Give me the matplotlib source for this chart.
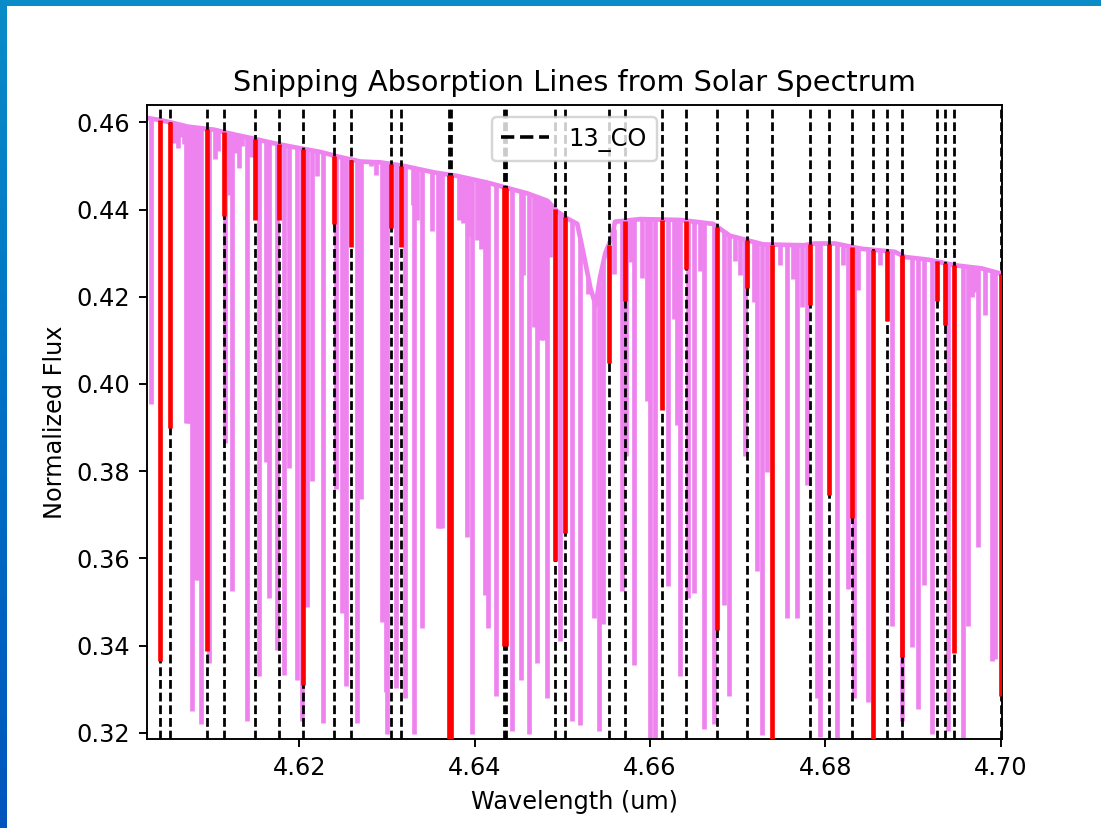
import numpy as np
import matplotlib
matplotlib.use("Agg")
import matplotlib.pyplot as plt
from matplotlib.patches import Rectangle
from matplotlib.lines import Line2D
from matplotlib.colors import LinearSegmentedColormap

# ---------------- data ----------------
# upper envelope (continuum) of the solar spectrum
cont_wave = [4.6026, 4.6042, 4.6057, 4.6073, 4.6103, 4.6126, 4.6149, 4.6171,
             4.6194, 4.6224, 4.6247, 4.6270, 4.6293, 4.6319, 4.6354, 4.6380,
             4.6414, 4.6460, 4.6483, 4.6494, 4.6505, 4.6517, 4.6524, 4.6532,
             4.6538, 4.6543, 4.6549, 4.6557, 4.6560, 4.6589, 4.6635, 4.6672,
             4.6691, 4.6729, 4.6775, 4.6788, 4.6811, 4.6841, 4.6879, 4.6891,
             4.6917, 4.6948, 4.6978, 4.7000]
cont_flux = [0.4610, 0.4605, 0.4598, 0.4590, 0.4583, 0.4572, 0.4562, 0.4552,
             0.4543, 0.4532, 0.4520, 0.4510, 0.4508, 0.4500, 0.4485, 0.4477,
             0.4462, 0.4437, 0.4420, 0.4396, 0.4380, 0.4367, 0.4300, 0.4220,
             0.4180, 0.4245, 0.4300, 0.4340, 0.4372, 0.4378, 0.4376, 0.4367,
             0.4340, 0.4320, 0.4318, 0.4322, 0.4322, 0.4310, 0.4303, 0.4291,
             0.4285, 0.4272, 0.4265, 0.4253]

# solar absorption lines: centre wavelength and minimum flux
line_wave = [4.60309, 4.60707, 4.60730, 4.60753, 4.60776, 4.60799, 4.60821,
             4.60845, 4.60860, 4.60878,
             4.60973, 4.61155, 4.61189, 4.61228, 4.61314, 4.61402, 4.61539,
             4.61618, 4.61649, 4.61744, 4.61827, 4.61888, 4.61979, 4.62036,
             4.62085, 4.62150, 4.62276, 4.62416, 4.62492, 4.62538, 4.62655,
             4.62700, 4.62948, 4.62985, 4.63005, 4.63099, 4.63202, 4.63308,
             4.63403, 4.63517, 4.63577, 4.63604, 4.63629, 4.63916, 4.63973,
             4.64030, 4.64113, 4.64150, 4.64238, 4.64428, 4.64523, 4.64617,
             4.64713, 4.64756, 4.64779, 4.64827, 4.64978, 4.65112, 4.65206,
             4.65297, 4.65358, 4.65415, 4.65468, 4.65681, 4.65730, 4.65813,
             4.65966, 4.66003, 4.66060, 4.66200, 4.66308, 4.66345, 4.66428,
             4.66497, 4.66610, 4.66732, 4.66838, 4.66895, 4.67085, 4.67219,
             4.67276, 4.67333, 4.67560, 4.67674, 4.67788, 4.67902, 4.67940,
             4.68130, 4.68262, 4.68330, 4.68490, 4.68756, 4.68870, 4.68984,
             4.69059, 4.69124, 4.69212, 4.69397, 4.69572, 4.69629, 4.69743,
             4.69895, 4.69933]
line_min = [0.3955, 0.3910, 0.3910, 0.3910, 0.3251, 0.3910, 0.3550,
            0.3550, 0.3910, 0.3220,
            0.3360, 0.3864, 0.4434, 0.3526, 0.4496, 0.3227, 0.3330,
            0.3820, 0.3510, 0.3390, 0.3332, 0.3807, 0.3320, 0.3227,
            0.3488, 0.3778, 0.3222, 0.3760, 0.3474, 0.3308, 0.3222,
            0.3735, 0.3455, 0.3293, 0.3198, 0.3302, 0.3280, 0.3198,
            0.3440, 0.4350, 0.3669, 0.3669, 0.3669, 0.3649, 0.3198,
            0.4330, 0.3517, 0.3440, 0.3284, 0.3203, 0.3320, 0.3198,
            0.3360, 0.4100, 0.4100, 0.3279, 0.3410, 0.3227, 0.3218,
            0.4206, 0.3464, 0.3203, 0.3450, 0.3526, 0.3835, 0.3355,
            0.3960, 0.3180, 0.3189, 0.3536, 0.3906, 0.3330, 0.3510,
            0.3520, 0.3208, 0.3220, 0.3493, 0.3284, 0.3835, 0.3570,
            0.3194, 0.3797, 0.3464, 0.3464, 0.3769, 0.3280, 0.3190,
            0.3189, 0.3530, 0.3280, 0.3270, 0.3445, 0.3227, 0.3397,
            0.3255, 0.3540, 0.3198, 0.3203, 0.3189, 0.3445, 0.3626,
            0.3365, 0.3370]

# weak solar lines near the continuum
weak_wave = [4.60574, 4.60620, 4.60642, 4.60680, 4.61038, 4.61075, 4.61270,
             4.61350, 4.61450, 4.62199, 4.62814, 4.62871, 4.63293, 4.63346,
             4.63820, 4.63862, 4.63953, 4.64067, 4.64546, 4.64671, 4.64864,
             4.65585, 4.65776, 4.65909, 4.66269, 4.66573, 4.66972, 4.67029,
             4.67180, 4.67484, 4.67632, 4.67731, 4.68205, 4.68376, 4.68623,
             4.69671, 4.69705, 4.69819]
weak_min = [0.4553, 0.4540, 0.4567, 0.4550, 0.4515, 0.4534, 0.4530,
            0.4545, 0.4520, 0.4477, 0.4499, 0.4480, 0.4410, 0.4377,
            0.4377, 0.4370, 0.4340, 0.4310, 0.4250, 0.4130, 0.4291,
            0.4253, 0.4280, 0.4244, 0.4149, 0.4260, 0.4282, 0.4250,
            0.4187, 0.4272, 0.4240, 0.4177, 0.4272, 0.4215, 0.4272,
            0.4200, 0.4210, 0.4158]

# 13CO line positions (dashed) and the depth reached by the snipped part
co_wave = [4.60411, 4.60528, 4.60943, 4.61137, 4.61493, 4.61767, 4.62043,
           4.62396, 4.62595, 4.63050, 4.63164, 4.63710, 4.63725, 4.64336,
           4.64352, 4.64921, 4.65032, 4.65528, 4.65719, 4.66137, 4.66413,
           4.66763, 4.67105, 4.67396, 4.67826, 4.68046, 4.68301, 4.68540,
           4.68699, 4.68874, 4.69269, 4.69367, 4.69466, 4.70000]
co_min = [0.3365, 0.3900, 0.3388, 0.4386, 0.4377, 0.4377, 0.3310,
          0.4367, 0.4315, 0.4358, 0.4315, 0.3180, 0.3180, 0.3398,
          0.3398, 0.3593, 0.3659, 0.4049, 0.4191, 0.3940, 0.4263,
          0.3436, 0.4220, 0.3180, 0.4182, 0.3745, 0.3692, 0.3180,
          0.4144, 0.3374, 0.4191, 0.4134, 0.3384, 0.3284]

title = "Snipping Absorption Lines from Solar Spectrum"
xlabel = "Wavelength (um)"
ylabel = "Normalized Flux"
legend_label = "13_CO"

# ---------------- figure ----------------
W, H, DPI = 1101, 828, 172.5
fig = plt.figure(figsize=(W / DPI, H / DPI), dpi=DPI, facecolor="white")

# blue window frame (top bar + left gradient bar)
fig.patches.append(Rectangle((0, 1 - 6 / H), 1, 6 / H, transform=fig.transFigure,
                             facecolor="#0b8bc8", edgecolor="none", zorder=-10))
bar = fig.add_axes([0, 0, 7 / W, 1])
cmap = LinearSegmentedColormap.from_list("frame", ["#0a8cc8", "#0070c4", "#0055bd"])
bar.imshow(np.linspace(0, 1, 256).reshape(-1, 1), aspect="auto", cmap=cmap)
bar.set_axis_off()

ax = fig.add_axes([146.7 / W, 1 - 739.3 / H, (1001.7 - 146.7) / W, (739.3 - 105.3) / H])

cw = np.array(cont_wave)
cf = np.array(cont_flux)
LW = 1.95

# solar spectrum (violet): continuum plus absorption lines
ax.plot(cw, cf, color="violet", lw=LW, zorder=1)
lw_arr = np.array(line_wave)
ax.vlines(lw_arr, np.array(line_min), np.interp(lw_arr, cw, cf),
          color="violet", lw=LW, zorder=1)
ww = np.array(weak_wave)
ax.vlines(ww, np.array(weak_min), np.interp(ww, cw, cf),
          color="violet", lw=LW, zorder=1)

# 13CO line positions
for w in co_wave:
    ax.axvline(w, color="black", ls=(0, (3.2, 1.4)), lw=1.15, zorder=2)

# snipped parts (red)
co = np.array(co_wave)
ax.vlines(co, np.array(co_min), np.interp(co, cw, cf), color="red", lw=LW, zorder=3)

ax.set_xlim(4.6026, 4.7001)
ax.set_ylim(0.3185, 0.4639)
ax.set_xticks([4.62, 4.64, 4.66, 4.68, 4.70])
ax.set_yticks([0.32, 0.34, 0.36, 0.38, 0.40, 0.42, 0.44, 0.46])
ax.set_title(title)
ax.set_xlabel(xlabel)
ax.set_ylabel(ylabel)
handle = Line2D([], [], color="black", ls="--", lw=1.5)
ax.legend([handle], [legend_label], loc="upper center")

fig.savefig("out.png", dpi=DPI, facecolor="white")
